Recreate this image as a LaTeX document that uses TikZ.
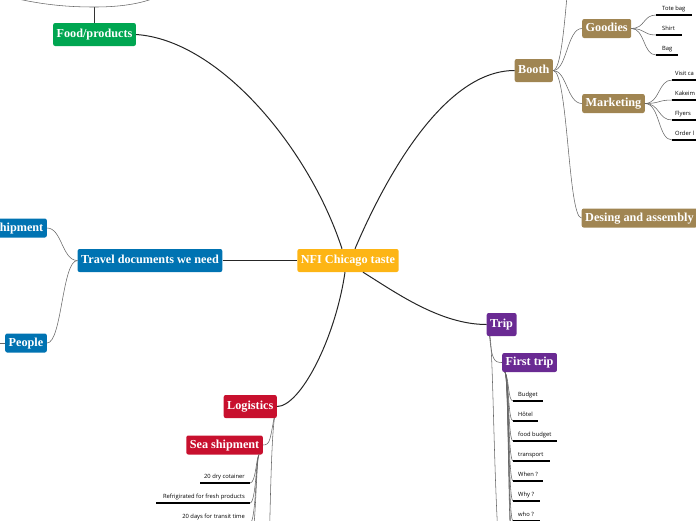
\documentclass[tikz,border=0pt]{standalone}
\usepackage{fontspec}
\setmainfont{Liberation Serif}
\newfontfamily\leaffont{Open Sans}
\definecolor{corange}{HTML}{FDB515}
\definecolor{cgreen}{HTML}{00A651}
\definecolor{cbrown}{HTML}{A08552}
\definecolor{cblue}{HTML}{0073B2}
\definecolor{cpurple}{HTML}{6A2A93}
\definecolor{cred}{HTML}{C8102E}
\tikzset{
  topic/.style={rounded corners=2pt, text=white, font=\bfseries\fontsize{12.2}{14}\selectfont,
    inner xsep=3.5pt, inner ysep=0pt, minimum height=23pt, text height=8.5pt, text depth=2.5pt},
  subtopic/.style={topic, minimum height=19pt},
  mainlink/.style={draw=black!85, line width=1pt},
  sublink/.style={draw=black!60, line width=0.55pt},
  leaf/.style={font=\leaffont\fontsize{5.8}{7}\selectfont, text=black, inner sep=0pt},
  uline/.style={draw=black, line width=1.2pt},
}
\begin{document}
\begin{tikzpicture}[x=1pt,y=-1pt]
\useasboundingbox (0,0) rectangle (696,520);
\clip (0,0) rectangle (696,520);

% ---- main nodes
\node[topic, fill=corange] (center) at (348,260.5) {NFI Chicago taste};
\node[topic, fill=cgreen] (food) at (94.5,34.5) {Food/products};
\node[topic, fill=cbrown, anchor=west] (booth) at (514.5,70.5) {Booth};
\node[topic, fill=cblue, anchor=east] (travel) at (222.5,260.5) {Travel documents we need};
\node[topic, fill=cpurple, anchor=west] (trip) at (486.5,324.5) {Trip};
\node[topic, fill=cred, anchor=east] (logistics) at (277,406.5) {Logistics};

% ---- sub nodes
\node[subtopic, fill=cbrown, anchor=west] (goodies) at (582,28.5) {Goodies};
\node[subtopic, fill=cbrown, anchor=west] (marketing) at (582,103.5) {Marketing};
\node[subtopic, fill=cbrown, anchor=west] (desing) at (581.5,218) {Desing and assembly};
\node[subtopic, fill=cblue, anchor=east] (shipdoc) at (47,228) {hipment};
\node[subtopic, fill=cblue, anchor=east] (people) at (47,343) {People};
\node[subtopic, fill=cpurple, anchor=west] (first) at (502,362.5) {First trip};
\node[subtopic, fill=cred, anchor=east] (sea) at (263,445) {Sea shipment};

% ---- main connectors
\draw[mainlink] (food.east) .. controls (220,40) and (310,150) .. ([xshift=-6pt]center.north);
\draw[mainlink] ([xshift=7pt]center.north) .. controls (380,190) and (440,70.5) .. (booth.west);
\draw[mainlink] (travel.east) -- (center.west);
\draw[mainlink] ([xshift=15pt]center.south) .. controls (395,292) and (440,324.5) .. (trip.west);
\draw[mainlink] ([xshift=-3pt]center.south) .. controls (335,340) and (300,406.5) .. (logistics.east);

% ---- food/products upper branch
\coordinate (fbr) at (94.5,7);
\coordinate (fl) at (18,-1);
\coordinate (fr) at (152,-1);
\draw[line width=0.8pt, black!80] (food.north) -- (fbr);
\draw[sublink] (fl) .. controls (50,6) and (75,7) .. (fbr) .. controls (115,7) and (135,5) .. (fr);

% ---- booth children
\coordinate (bhid) at (582,-100);
\draw[sublink] (booth.east) .. controls (567,70.5) and (567,28.5) .. (goodies.west);
\draw[sublink] (booth.east) .. controls (567,70.5) and (567,103.5) .. (marketing.west);
\draw[sublink] (booth.east) .. controls (568,70.5) and (568,218) .. (desing.west);
\draw[sublink] (booth.east) .. controls (568,70.5) and (568,-100) .. (bhid);

% ---- goodies leaves
\foreach \n/\t/\y/\e in {g1/Tote bag/15/692, g2/Shirt/35/682, g3/Bag/55/678}{
  \node[leaf, anchor=base west] (\n) at (662,\y-5) {\t};
  \coordinate (\n s) at (656,\y);
  \draw[sublink] (goodies.east) .. controls (645,28.5) and (643,\y) .. (\n s);
  \draw[uline] (\n s) -- (\e,\y);
}
% ---- marketing leaves
\foreach \n/\t/\y in {m1/Visit ca/80, m2/Kakeim/100, m3/Flyers/120, m4/Order l/140}{
  \node[leaf, anchor=base west] (\n) at (675,\y-5) {\t};
  \coordinate (\n s) at (672,\y);
  \draw[sublink] (marketing.east) .. controls (660,103.5) and (658,\y) .. (\n s);
  \draw[uline] (\n s) -- (700,\y);
}

% ---- travel children
\coordinate (pl) at (-2,343);
\draw[sublink] (travel.west) .. controls (62,260.5) and (62,228) .. (shipdoc.east);
\draw[sublink] (travel.west) .. controls (62,260.5) and (62,343) .. (people.east);
\draw[sublink] (people.west) -- (pl);

% ---- trip children
\coordinate (thid) at (505,600);
\draw[sublink] ([xshift=3pt]trip.south west) .. controls (492,360) and (494,362.5) .. (first.west);
\draw[sublink] ([xshift=3.5pt]trip.south west) .. controls (494,360) and (494,560) .. (thid);
\foreach \n/\t/\y/\e in {t1/Budget/401/543, t2/Hôtel/421/538, t3/food budget/441/557, t4/transport/461/550, t5/When ?/481/543, t6/Why ?/501/540, t7/who ?/521/540}{
  \node[leaf, anchor=base west] (\n) at (518,\y-4.5) {\t};
  \coordinate (\n s) at (513,\y);
  \draw[sublink] ([xshift=3pt]first.south west) .. controls (509,378) and (508,\y) .. (\n s);
  \draw[uline] (\n s) -- (\e,\y);
}
\foreach \y in {541,561}{
  \draw[sublink] ([xshift=3pt]first.south west) .. controls (509,378) and (508,\y) .. (513,\y);
}

% ---- logistics children
\coordinate (lhid) at (268,600);
\draw[sublink] ([xshift=-3pt]logistics.south east) .. controls (270,440) and (270,445) .. (sea.east);
\draw[sublink] ([xshift=-2.5pt]logistics.south east) .. controls (271,440) and (270,520) .. (lhid);
\foreach \n/\t/\y/\s in {s1/20 dry cotainer/483/200, s2/Refrigirated for fresh products/503/156, s3/20 days for transit time/523/176}{
  \node[leaf, anchor=base east] (\n) at (245,\y-5) {\t};
  \coordinate (\n s) at (250,\y);
  \draw[sublink] ([xshift=-4pt]sea.south east) .. controls (256,458) and (256,\y) .. (\n s);
  \draw[uline] (\n s) -- (\s,\y);
}
\draw[sublink] ([xshift=-4pt]sea.south east) .. controls (256,458) and (256,543) .. (250,543);
\end{tikzpicture}
\end{document}
